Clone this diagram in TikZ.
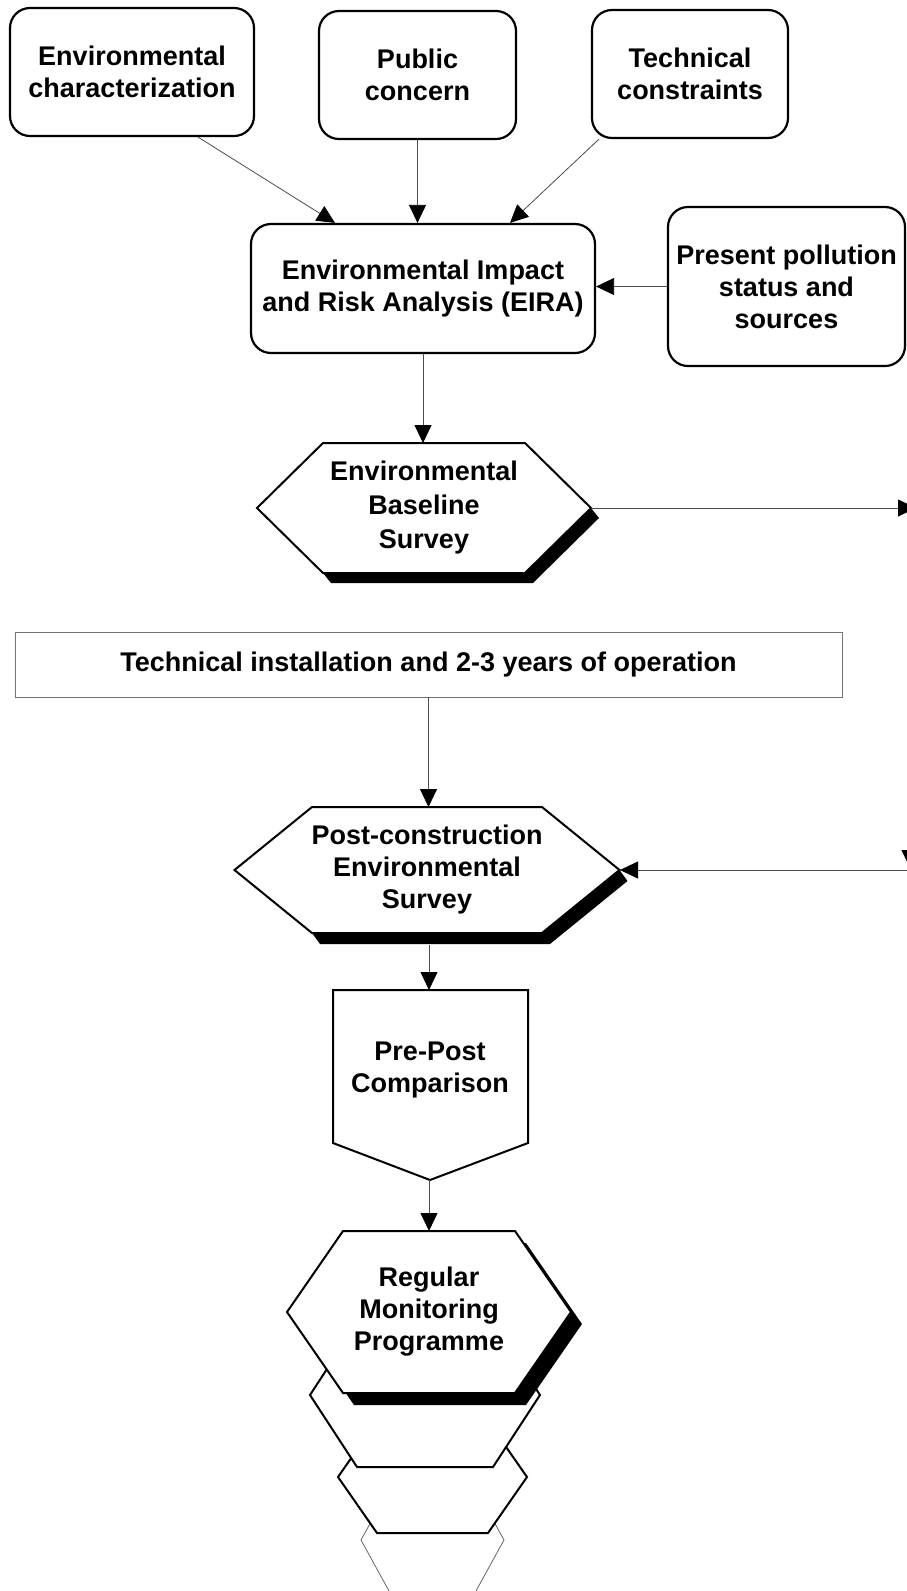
\documentclass[tikz,border=0pt]{standalone}
\usepackage{fontspec}
\setmainfont{Liberation Sans}
\usetikzlibrary{arrows.meta,calc}
\newcommand{\hexpath}[5]{(#1-#3,#2) -- (#1-#4,#2-#5) -- (#1+#4,#2-#5) -- (#1+#3,#2) -- (#1+#4,#2+#5) -- (#1-#4,#2+#5) -- cycle}
% shadow band along the right point, lower-right edge and bottom edge: #1 cx, #2 cy, #3 hw, #4 ht, #5 hh, #6 dx, #7 dy
\newcommand{\hexshadow}[7]{(#1+#3,#2) -- (#1+#4,#2+#5) -- (#1-#4,#2+#5) -- (#1-#4+#6,#2+#5+#7) -- (#1+#4+#6,#2+#5+#7) -- (#1+#3+#6,#2+#7) -- cycle}
\begin{document}
\begin{tikzpicture}[x=1pt,y=-1pt,
  lbl/.style={font=\bfseries\fontsize{27}{32}\selectfont, align=center, inner sep=0pt},
  rbox/.style={draw=black, line width=2.2pt, rounded corners=20pt, fill=white},
  conn/.style={draw=black!70, line width=0.8pt, -{Triangle[length=18pt,width=17pt,color=black]}},
  hexo/.style={draw=black, line width=2pt, fill=white, line join=miter},
  hexthin/.style={draw=black!60, line width=0.8pt, fill=white},
  shad/.style={fill=black},
]
\useasboundingbox (0,0) rectangle (907,1591);
\clip (0,0) rectangle (907,1591);
\fill[white] (0,0) rectangle (907,1591);

% ---------- top boxes ----------
\node[rbox, lbl, minimum width=244pt, minimum height=128pt] (env) at (132,72) {Environmental\\characterization};
\node[rbox, lbl, minimum width=197pt, minimum height=128pt] (pub) at (417.5,75) {Public\\concern};
\node[rbox, lbl, minimum width=196pt, minimum height=128pt] (tec) at (690,74) {Technical\\constraints};
\node[rbox, lbl, minimum width=344pt, minimum height=129pt] (eira) at (423,288.5) {Environmental Impact\\and Risk Analysis (EIRA)};
\node[rbox, lbl, minimum width=237pt, minimum height=159pt] (pres) at (786.5,286.5) {Present pollution\\status and\\sources};

% ---------- Environmental Baseline Survey ----------
\fill[shad] \hexshadow{424}{508}{167}{101}{65}{8}{10};
\draw[hexo] \hexpath{424}{508}{167}{101}{65};
\coordinate (ebsN) at (424,443);
\coordinate (ebsE) at (591,508);
\node[lbl, font=\bfseries\fontsize{27}{34}\selectfont] (ebs) at (424,508) {Environmental\\Baseline\\Survey};

% ---------- Technical installation ----------
\node[draw=black!55, line width=0.8pt, lbl, minimum width=827pt, minimum height=65pt] (ti) at (428.5,664.5) {Technical installation and 2-3 years of operation};

% ---------- Post-construction survey ----------
\fill[shad] \hexshadow{427}{870}{192.5}{115}{63}{8}{11};
\draw[hexo] \hexpath{427}{870}{192.5}{115}{63};
\coordinate (postN) at (427,807);
\coordinate (postS) at (429,945);
\coordinate (postE) at (620,870);
\node[lbl] (post) at (427,870) {Post-construction\\Environmental\\Survey};

% ---------- Pre-Post comparison ----------
\draw[hexo] (333,990) -- (528,990) -- (528,1143) -- (430,1180) -- (333,1143) -- cycle;
\coordinate (ppN) at (429,990);
\coordinate (ppS) at (429,1180);
\node[lbl] (pp) at (430,1070) {Pre-Post\\Comparison};

% ---------- stacked monitoring hexagons ----------
\draw[hexthin] \hexpath{432.5}{1540}{71.5}{38.5}{60};
\draw[hexo] \hexpath{432.5}{1477}{94.5}{55.5}{56};
\draw[hexo] \hexpath{425}{1395}{115}{68}{72};
\fill[shad] \hexpath{440}{1324}{142}{86}{81};
\draw[hexo] \hexpath{429}{1312}{142}{86}{81};
\coordinate (rmN) at (429,1231);
\node[lbl] (rm) at (429,1312) {Regular\\Monitoring\\Programme};

% ---------- off-picture ends ----------
\coordinate (offE) at (916,508);
\coordinate (offP) at (916,870);
\coordinate (offD1) at (910,780);
\coordinate (offD2) at (910,868);

% ---------- connectors ----------
\draw[conn] ([xshift=66pt]env.south) -- ([xshift=-88pt]eira.north);
\draw[conn] (pub.south) -- (pub.south |- eira.north);
\draw[conn] ([xshift=-91pt]tec.south) -- ([xshift=87pt]eira.north);
\draw[conn] (pres.west) -- (pres.west -| eira.east);
\draw[conn] (eira.south) -- (eira.south |- ebsN);
\draw[conn] (ebsE) -- (offE);
\draw[conn] (ti.south) -- (ti.south |- postN);
\draw[conn] (offP) -- (postE);
\draw[conn] (offD1) -- (offD2);
\draw[conn] (postS) -- (ppN);
\draw[conn] (ppS) -- (rmN);
\end{tikzpicture}
\end{document}
